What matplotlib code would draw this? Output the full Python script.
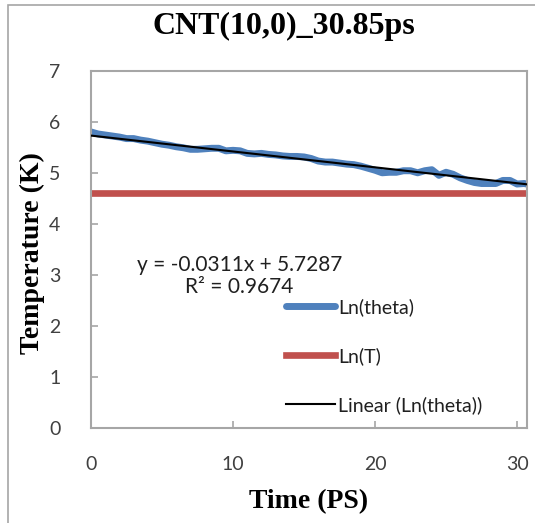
import matplotlib
matplotlib.use("Agg")
import matplotlib.pyplot as plt
from matplotlib.patches import Rectangle
import numpy as np

# Simulation time (ps) and ln(theta) samples
time_ps = [0.0, 0.5, 1.0, 1.5, 2.0, 2.5, 3.0, 3.5, 4.0, 4.5, 5.0, 5.5, 6.0, 6.5,
           7.0, 7.5, 8.0, 8.5, 9.0, 9.5, 10.0, 10.5, 11.0, 11.5, 12.0, 12.5,
           13.0, 13.5, 14.0, 14.5, 15.0, 15.5, 16.0, 16.5, 17.0, 17.5, 18.0,
           18.5, 19.0, 19.5, 20.0, 20.5, 21.0, 21.5, 22.0, 22.5, 23.0, 23.5,
           24.0, 24.5, 25.0, 25.5, 26.0, 26.5, 27.0, 27.5, 28.0, 28.5, 29.0,
           29.5, 30.0, 30.5, 30.85]
ln_theta = [5.80, 5.76, 5.74, 5.72, 5.70, 5.67, 5.67, 5.64, 5.62, 5.59, 5.56,
            5.54, 5.51, 5.49, 5.46, 5.46, 5.47, 5.48, 5.48, 5.43, 5.44, 5.43,
            5.38, 5.37, 5.38, 5.36, 5.35, 5.33, 5.32, 5.32, 5.31, 5.28, 5.23,
            5.21, 5.21, 5.19, 5.17, 5.16, 5.13, 5.09, 5.05, 5.00, 5.01, 5.01,
            5.04, 5.04, 5.00, 5.04, 5.06, 4.95, 5.01, 4.97, 4.90, 4.85, 4.81,
            4.79, 4.79, 4.79, 4.85, 4.85, 4.78, 4.79, 4.77]

# Reference level ln(T)
ln_T = 4.605

# Linear trendline coefficients
slope = -0.0311
intercept = 5.7287
r_squared = 0.9674

x_ticks = [0, 10, 20, 30]
y_ticks = [0, 1, 2, 3, 4, 5, 6, 7]

BLUE = "#4f81bd"
RED = "#c0504d"
GRAY = "#a6a6a6"
SANS = ["Lato", "DejaVu Sans"]
SERIF = ["Liberation Serif", "DejaVu Serif"]

fig = plt.figure(figsize=(5.35, 5.23), dpi=100)
ax = fig.add_axes([91 / 535, 1 - 428 / 523, 436 / 535, (428 - 70.7) / 523])

# Outer chart border
fig.patches.append(Rectangle((8 / 535, -0.1), 1.2, 1 - 5 / 523 + 0.1,
                             transform=fig.transFigure, fill=False,
                             edgecolor=GRAY, linewidth=1.2))

t = np.array(time_ps)
ax.plot(t, ln_theta, color=BLUE, lw=5.0, solid_capstyle="round",
        solid_joinstyle="round", label="Ln(theta)", zorder=2)
ax.plot([t.min(), t.max()], [ln_T, ln_T], color=RED, lw=4.8,
        label="Ln(T)", zorder=2)
fit_x = np.array([t.min(), t.max()])
ax.plot(fit_x, slope * fit_x + intercept, color="black", lw=1.5,
        label="Linear (Ln(theta))", zorder=3)

ax.set_xlim(0, 30.7)
ax.set_ylim(0, 7)
ax.set_xticks(x_ticks)
ax.set_yticks(y_ticks)
ax.tick_params(direction="in", length=5, width=1.2, color=GRAY,
               labelsize=14)
ax.tick_params(axis="x", pad=20)
ax.tick_params(axis="y", pad=22)
for lab in ax.get_xticklabels() + ax.get_yticklabels():
    lab.set_family(SANS)
    lab.set_color("#404040")
for sp in ax.spines.values():
    sp.set_color(GRAY)
    sp.set_linewidth(1.5)

fig.text(284 / 535, 1 - 26 / 523, "CNT(10,0)_30.85ps", ha="center",
         va="center", fontsize=23, fontweight="bold", family=SERIF)
fig.text(309 / 535, 1 - 502 / 523, "Time (PS)", ha="center", va="center",
         fontsize=20, fontweight="bold", family=SERIF)
fig.text(32 / 535, 1 - 253 / 523, "Temperature (K)", ha="center",
         va="center", rotation=90, fontsize=20, fontweight="bold",
         family=SERIF)

ax.text(0.34, 0.425, f"y = {slope:.4f}x + {intercept:.4f}\nR\u00b2 = {r_squared:.4f}",
        transform=ax.transAxes, ha="center", va="center", fontsize=15,
        family=SANS, color="#202020", linespacing=1.15)

leg = ax.legend(loc="upper left", bbox_to_anchor=(0.43, 0.385), frameon=False,
                handlelength=2.5, handletextpad=0.15, labelspacing=1.6,
                prop={"family": SANS, "size": 14}, borderaxespad=0)
for txt in leg.get_texts():
    txt.set_color("#202020")

fig.savefig("out.png", dpi=100)
